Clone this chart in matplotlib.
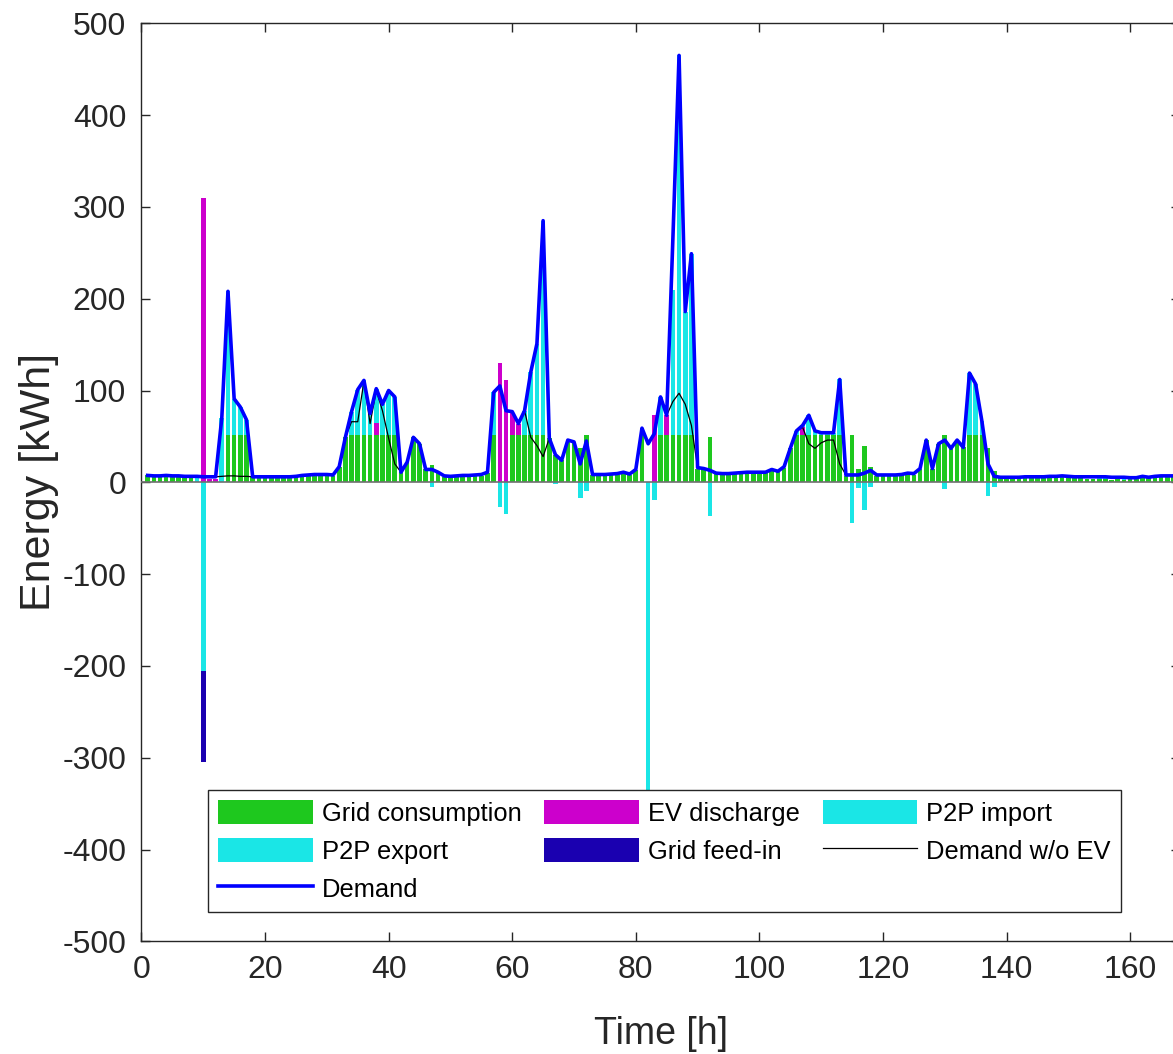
import matplotlib
matplotlib.use("Agg")
import matplotlib.pyplot as plt
import numpy as np

plt.rcParams["font.family"] = ["Liberation Sans", "DejaVu Sans"]
plt.rcParams["axes.unicode_minus"] = False

hours = np.arange(1, 169)

# hourly values, h = 1..168
grid_consumption = [
    7.5, 6, 6, 6, 6, 6, 5.5, 5.5, 0, 0, 0, 0,
    0, 52, 52, 52, 52, 5.5, 5.5, 5.5, 5.5, 5.5, 5.5, 5.5,
    5.5, 6, 6.5, 7, 7, 7, 6.5, 17, 49, 52, 52, 52,
    52, 52, 52, 52, 52, 11, 22, 49, 42, 14, 19, 10,
    6, 5.5, 6, 6, 6, 6.5, 7, 10, 52, 0, 0, 52,
    52, 52, 52, 52, 52, 48, 30, 24, 46, 44, 37, 52,
    7.5, 7.5, 7.5, 8, 8, 9.5, 8, 13, 59, 0, 0, 52,
    52, 52, 52, 52, 52, 15, 14, 49, 9, 8.5, 8.5, 9,
    9.5, 10, 10, 10, 10, 13, 11, 16, 37, 52, 52, 52,
    52, 52, 52, 52, 52, 7, 52, 15, 40, 17, 7, 7,
    7, 7, 7.5, 9, 8.5, 14, 46, 15, 42, 52, 37, 46,
    38, 52, 52, 52, 37, 12, 4.5, 4.5, 4.5, 4.5, 5, 5,
    5, 5, 5.5, 5.5, 6, 5.5, 5, 5, 4, 4, 3.5, 4,
    3, 4, 3, 3.5, 4.5, 5.5, 4.5, 5.5, 6, 6, 6, 6,
]

demand = [
    7.5, 7, 7, 7.5, 7, 7, 6.5, 6.5, 6.5, 6, 6, 6,
    70, 208, 91, 82, 68, 6, 6, 6, 6, 6, 6, 6,
    6.5, 7.5, 8, 8.5, 8.5, 8.5, 8, 17, 49, 77, 101, 111,
    75, 102, 85, 100, 93, 11, 22, 49, 42, 14, 14, 11,
    7, 6.5, 7, 7.5, 7.5, 8, 8.5, 11, 98, 105, 78, 77,
    64, 78, 120, 151, 285, 48, 30, 24, 46, 44, 20, 45,
    8.5, 8.5, 8.5, 9, 9.5, 11, 9, 14, 59, 42, 53, 93,
    73, 265, 465, 186, 249, 16, 15, 13, 10, 9.5, 9.5, 10,
    10.5, 11, 11, 11, 11, 14, 12, 17, 37, 56, 62, 73,
    56, 54, 54, 54, 112, 8, 8, 8, 10, 13, 8, 8,
    8, 8, 8.5, 10, 9.5, 15, 46, 15, 42, 46, 37, 46,
    38, 119, 107, 67, 20, 6.5, 5.5, 5.5, 5.5, 5.5, 6, 6,
    6, 6, 6.5, 6.5, 7, 6.5, 6, 6, 6, 6, 6, 6,
    5.5, 5.5, 5.5, 5, 5, 6.5, 5.5, 6.5, 7, 7, 7, 7,
]

demand_wo_ev = [
    7.5, 7, 7, 7.5, 7, 7, 6.5, 6.5, 6.5, 6, 6, 6,
    6.5, 7, 7, 6.5, 6.5, 6, 6, 6, 6, 6, 6, 6,
    6.5, 7.5, 8, 8.5, 8.5, 8.5, 8, 17, 49, 66, 66, 110,
    64, 100, 78, 48, 20, 11, 22, 49, 42, 14, 14, 11,
    7, 6.5, 7, 7.5, 7.5, 8, 8.5, 11, 98, 105, 78, 77,
    64, 78, 49, 40, 28, 48, 30, 24, 46, 44, 20, 45,
    8.5, 8.5, 8.5, 9, 9.5, 11, 9, 14, 59, 42, 53, 93,
    73, 88, 97, 85, 62, 16, 15, 13, 10, 9.5, 9.5, 10,
    10.5, 11, 11, 11, 11, 14, 12, 17, 37, 56, 60, 42,
    37, 43, 46, 46, 20, 8, 8, 8, 10, 13, 8, 8,
    8, 8, 8.5, 10, 9.5, 15, 46, 15, 42, 46, 37, 46,
    38, 119, 107, 67, 20, 6.5, 5.5, 5.5, 5.5, 5.5, 6, 6,
    6, 6, 6.5, 6.5, 7, 6.5, 6, 6, 6, 6, 6, 6,
    5.5, 5.5, 5.5, 5, 5, 6.5, 5.5, 6.5, 7, 7, 7, 7,
]

# sparse series: {hour: value}
ev_discharge = {10: 310, 11: 4, 12: 4, 38: 13, 58: 130, 59: 111, 60: 24,
                61: 12, 83: 73, 85: 21, 107: 8}
p2p_import = {9: 4.5, 13: 70, 14: 156, 15: 39, 16: 30, 17: 16,
              34: 25, 35: 49, 36: 59, 37: 23, 38: 37, 39: 33, 40: 48, 41: 41,
              57: 46, 62: 26, 63: 68, 64: 99, 65: 233,
              84: 41, 86: 157, 87: 413, 88: 134, 89: 197,
              106: 4, 107: 2, 108: 21, 109: 4, 110: 2, 111: 2, 112: 2, 113: 60,
              134: 67, 135: 55, 136: 15, 155: 2, 156: 1.5, 159: 2, 160: 1.5}
p2p_export = {10: -205, 47: -5, 58: -27, 59: -35, 67: -1.5, 71: -17, 72: -9,
              82: -453, 83: -19, 92: -37, 115: -44, 116: -6, 117: -30,
              118: -5, 130: -7, 137: -15, 138: -5}
grid_feed_in = {10: -100}


def expand(d):
    a = np.zeros(len(hours))
    for h, v in d.items():
        a[h - 1] = v
    return a


grid = np.array(grid_consumption, dtype=float)
ev = expand(ev_discharge)
imp = expand(p2p_import)
exp_ = expand(p2p_export)
feed = expand(grid_feed_in)

c_green = "#1ec81e"
c_mag = "#cc00cc"
c_cyan = "#1ae6e6"
c_dark = "#1a00b0"
c_txt = "#262626"

fig = plt.figure(figsize=(11.73, 10.54), dpi=100)
ax = fig.add_axes([0.1206, 0.1069, 0.885, 0.871])

w = 0.75
b_grid = ax.bar(hours, grid, w, color=c_green, zorder=2)
b_ev = ax.bar(hours, ev, w, bottom=grid, color=c_mag, zorder=2)
b_imp = ax.bar(hours, imp, w, bottom=grid + ev, color=c_cyan, zorder=2)
b_exp = ax.bar(hours, exp_, w, color=c_cyan, zorder=2)
b_feed = ax.bar(hours, feed, w, bottom=exp_, color=c_dark, zorder=2)
ax.axhline(0, color="#707070", lw=1.2, zorder=3)
l_noev, = ax.plot(hours, demand_wo_ev, color="k", lw=0.9, zorder=4)
l_dem, = ax.plot(hours, demand, color="#0000ff", lw=2.6, zorder=5)

ax.set_xlim(0, 168)
ax.set_ylim(-500, 500)
ax.set_xticks(np.arange(0, 161, 20))
ax.set_yticks(np.arange(-500, 501, 100))
ax.tick_params(direction="in", length=6.5, width=1, top=True, right=True,
               labelsize=23, colors=c_txt)
ax.tick_params(axis="y", pad=11)
ax.tick_params(axis="x", pad=10)
for s in ax.spines.values():
    s.set_color(c_txt)
    s.set_linewidth(1)

ax.set_xlabel("Time [h]", fontsize=27, color=c_txt, labelpad=22)
ax.set_ylabel("Energy [kWh]", fontsize=31, color=c_txt, labelpad=2)

handles = [b_grid, b_exp, l_dem, b_ev, b_feed, b_imp, l_noev]
labels = ["Grid consumption", "P2P export", "Demand", "EV discharge",
          "Grid feed-in", "P2P import", "Demand w/o EV"]
leg = ax.legend(handles, labels, ncol=3, loc="upper left",
                bbox_to_anchor=(0.0641, 0.1648), borderaxespad=0,
                fontsize=18.4, handlelength=3.7, handleheight=1.05,
                labelspacing=0.48, handletextpad=0.35, borderpad=0.4,
                columnspacing=0.9, fancybox=False, framealpha=1,
                edgecolor=c_txt)
leg.get_frame().set_linewidth(1)
leg.set_zorder(10)

fig.savefig("out.png", dpi=100)
